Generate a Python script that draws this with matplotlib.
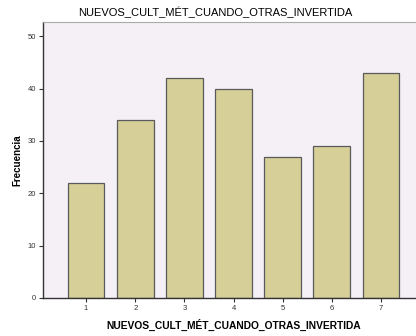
import matplotlib.pyplot as plt

# data
categories = ["1", "2", "3", "4", "5", "6", "7"]
frecuencia = [22, 34, 42, 40, 27, 29, 43]
titulo = "NUEVOS_CULT_MÉT_CUANDO_OTRAS_INVERTIDA"

plt.rcParams['font.family'] = ['Liberation Sans', 'DejaVu Sans']

fig = plt.figure(figsize=(4.16, 3.36), dpi=100)
ax = fig.add_axes([0.1034, 0.1131, 0.916, 0.8214])
ax.set_facecolor('#F4F0F6')

pos = list(range(1, len(categories) + 1))
ax.bar(pos, frecuencia, width=0.75, color='#D6CF98', edgecolor='#5A5A5A', linewidth=0.9)

ax.set_xlim(0.125, 7.875)
ax.set_ylim(0, 52.7)
ax.set_xticks(pos)
ax.set_xticklabels(categories)
ax.set_yticks([0, 10, 20, 30, 40, 50])
ax.tick_params(axis='both', labelsize=5.5, length=3, width=0.8, color='#333333', labelcolor='#333333', pad=2)

for s in ['left', 'bottom']:
    ax.spines[s].set_color('#333333')
    ax.spines[s].set_linewidth(1.0)
for s in ['top', 'right']:
    ax.spines[s].set_color('#AAAAAA')
    ax.spines[s].set_linewidth(0.8)

ax.set_ylabel("Frecuencia", fontsize=7, fontweight='bold', labelpad=4)
ax.set_xlabel(titulo, fontsize=7.4, fontweight='bold', labelpad=5)
fig.text(0.517, 0.962, titulo, fontsize=8, ha='center', va='center')

fig.savefig('out.png', dpi=100)
